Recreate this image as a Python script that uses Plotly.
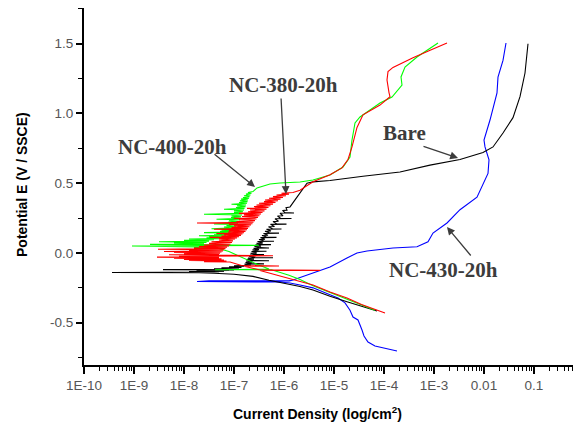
import numpy as np
import plotly.graph_objects as go

# ---------------- data (log10 of current density, potential V) ----------------
BARE_LOG_I = [-4.14, -4.44, -4.74, -5.08, -5.42, -5.68, -6.08, -6.3, -6.62, -7.0,
              -7.4, -7.7, -9.44, -7.7, -7.3, -7.9, -7.2, -7.75, -7.1, -7.6, -7.0, -8.42, -6.95, -7.4,
              -6.9, -7.25, -6.85, -7.1, -6.80, -7.0,
              -6.80, -6.66, -6.79, -6.65, -6.40, -6.65, -6.77, -6.63, -6.76, -6.62, -6.30, -6.62,
              -6.74, -6.60, -6.72, -6.59, -6.22, -6.59, -6.70, -6.57, -6.68, -6.56, -6.40, -6.56,
              -6.67, -6.54, -6.65, -6.52, -6.35, -6.52, -6.63, -6.50, -6.61, -6.48, -6.30, -6.48,
              -6.59, -6.46, -6.57, -6.44, -6.26, -6.44, -6.55, -6.42, -6.53, -6.40, -6.20, -6.40,
              -6.50, -6.38, -6.47, -6.35, -6.15, -6.35, -6.44, -6.32, -6.41, -6.29, -6.10, -6.29,
              -6.38, -6.26, -6.35, -6.23, -6.05, -6.23, -6.31, -6.19, -6.27, -6.15, -5.95, -6.15,
              -6.22, -6.11, -6.18, -6.07, -5.85, -6.07, -6.13, -6.02, -6.08, -5.98, -5.80, -5.98,
              -6.03, -5.94, -5.96, -5.88,
              -5.74, -5.64, -5.60, -5.54, -5.42, -5.08, -4.42, -3.68, -3.08, -2.48, -2.02, -1.82,
              -1.62, -1.42, -1.28, -1.18, -1.12]
BARE_E = [-0.416, -0.385, -0.35, -0.31, -0.265, -0.24, -0.213, -0.195, -0.168, -0.153,
          -0.145, -0.142, -0.140, -0.138, -0.136, -0.134, -0.132, -0.129, -0.126, -0.123, -0.121, -0.119, -0.117, -0.113,
          -0.110, -0.106, -0.103, -0.099, -0.095, -0.092,
          -0.090, -0.088, -0.080, -0.078, -0.078, -0.076, -0.068, -0.066, -0.058, -0.056, -0.056, -0.054,
          -0.046, -0.044, -0.036, -0.034, -0.034, -0.032, -0.024, -0.022, -0.014, -0.012, -0.012, -0.010,
          -0.002, 0.000, 0.010, 0.012, 0.012, 0.014, 0.022, 0.024, 0.034, 0.036, 0.036, 0.038,
          0.046, 0.048, 0.058, 0.060, 0.060, 0.062, 0.070, 0.072, 0.082, 0.084, 0.084, 0.086,
          0.096, 0.098, 0.110, 0.112, 0.112, 0.114, 0.125, 0.127, 0.140, 0.142, 0.142, 0.144,
          0.155, 0.157, 0.170, 0.172, 0.172, 0.174, 0.188, 0.190, 0.205, 0.207, 0.207, 0.209,
          0.225, 0.227, 0.245, 0.247, 0.247, 0.249, 0.265, 0.267, 0.285, 0.287, 0.287, 0.289,
          0.305, 0.307, 0.325, 0.33,
          0.40, 0.45, 0.475, 0.50, 0.51, 0.52, 0.55, 0.58, 0.63, 0.67, 0.72, 0.76,
          0.86, 0.97, 1.12, 1.29, 1.50]

NC380_LOG_I = [-3.98, -4.14, -4.45, -4.74, -5.08, -5.42, -5.75, -6.08, -6.48, -5.28, -6.5, -6.8,
               -6.1, -6.85,
               -7.08, -7.6, -7.15, -7.9, -7.2, -8.0, -7.25, -8.2, -7.3, -8.54, -7.3, -8.1, -6.22,
               -7.35, -8.3, -7.3, -8.0, -7.28, -8.2, -7.25, -8.4, -7.22, -7.9, -7.2, -8.52, -7.17,
               -7.8, -7.14, -7.7, -7.1, -7.6, -7.07, -7.5, -7.04, -7.45, -7.02, -7.3,
               -6.98, -7.30, -6.94, -7.48, -6.90, -7.25, -6.86, -7.20, -6.83, -7.35, -6.80, -7.12,
               -6.77, -7.10, -6.74, -7.40, -6.72, -7.05, -6.69, -7.00, -6.66, -7.10, -6.63, -7.74,
               -6.61, -6.95, -6.58, -6.90, -6.55, -7.00, -6.52, -6.84, -6.49, -6.80, -6.46, -6.90,
               -6.43, -6.72, -6.39, -6.68, -6.35, -6.74, -6.31, -6.60, -6.27, -6.55, -6.22, -6.50,
               -6.17, -6.40, -6.12, -6.38, -6.07, -6.30, -6.02, -6.22, -5.96, -6.15, -5.90, -6.05,
               -5.82, -5.75,
               -5.68, -5.42, -5.08, -4.84, -4.72, -4.64, -4.54, -4.42, -4.08, -3.88, -3.90, -3.94,
               -3.92, -3.82, -3.42, -3.1, -2.74]
NC380_E = [-0.43, -0.408, -0.37, -0.323, -0.28, -0.23, -0.195, -0.165, -0.125, -0.125, -0.12, -0.095,
           -0.093, -0.09,
           -0.065, -0.062, -0.058, -0.054, -0.050, -0.046, -0.042, -0.038, -0.034, -0.030, -0.027, -0.024, -0.020,
           -0.017, -0.013, -0.009, -0.005, -0.001, 0.003, 0.007, 0.011, 0.015, 0.019, 0.023, 0.027, 0.031,
           0.036, 0.041, 0.046, 0.051, 0.057, 0.063, 0.069, 0.075, 0.081, 0.087, 0.093,
           0.100, 0.104, 0.108, 0.112, 0.116, 0.121, 0.126, 0.131, 0.136, 0.140, 0.145, 0.150,
           0.155, 0.160, 0.166, 0.170, 0.176, 0.182, 0.188, 0.194, 0.200, 0.205, 0.210, 0.215,
           0.220, 0.226, 0.232, 0.238, 0.244, 0.249, 0.255, 0.261, 0.267, 0.273, 0.279, 0.284,
           0.290, 0.296, 0.302, 0.308, 0.314, 0.320, 0.326, 0.332, 0.338, 0.344, 0.350, 0.356,
           0.362, 0.368, 0.374, 0.380, 0.386, 0.392, 0.398, 0.404, 0.410, 0.416, 0.422, 0.428,
           0.434, 0.442,
           0.45, 0.51, 0.56, 0.61, 0.67, 0.76, 0.90, 0.99, 1.06, 1.12, 1.15, 1.24,
           1.30, 1.33, 1.40, 1.45, 1.505]

NC400_LOG_I = [-4.18, -4.45, -4.74, -5.08, -5.42, -5.68, -5.9, -6.25, -7.38, -6.3, -6.48, -6.88,
               -7.1, -7.34,
               -7.8, -7.4, -9.04, -7.5, -6.5, -7.6, -8.68, -7.6, -8.2, -7.55, -8.5, -7.5, -8.0,
               -7.4, -7.9, -7.3,
               -7.30, -7.55, -7.25, -7.50, -7.20, -7.70, -7.16, -7.40, -7.12, -7.35, -7.08, -7.60,
               -7.05, -7.28, -7.02, -7.25, -7.00, -7.45, -6.98, -7.20, -6.96, -7.15, -6.94, -7.40,
               -6.92, -7.12, -6.90, -7.10, -6.88, -7.35, -6.87, -7.06, -6.86, -7.05, -6.84, -7.60,
               -6.83, -7.00, -6.82, -7.00, -6.80, -7.20, -6.79, -6.96, -6.77, -6.94, -6.76, -7.05,
               -6.74, -6.90, -6.73, -6.88, -6.72, -6.86, -6.70, -6.82, -6.69, -6.80, -6.67, -6.76,
               -6.65, -6.72, -6.62,
               -6.54, -6.28, -6.08, -5.68, -5.42, -5.08, -4.82, -4.68, -4.64, -4.58, -4.48, -4.08,
               -3.84, -3.72, -3.64, -3.66, -3.58, -3.34, -2.92]
NC400_E = [-0.41, -0.372, -0.33, -0.285, -0.235, -0.19, -0.16, -0.12, -0.12, -0.115, -0.09, -0.025,
           0.01, 0.035,
           0.04, 0.042, 0.05, 0.052, 0.055, 0.058, 0.062, 0.066, 0.072, 0.076, 0.08, 0.085, 0.09,
           0.095, 0.10, 0.103,
           0.105, 0.108, 0.112, 0.116, 0.120, 0.123, 0.127, 0.131, 0.135, 0.139, 0.143, 0.146,
           0.150, 0.155, 0.160, 0.165, 0.170, 0.174, 0.180, 0.186, 0.192, 0.198, 0.204, 0.208,
           0.214, 0.220, 0.226, 0.232, 0.238, 0.242, 0.248, 0.254, 0.260, 0.266, 0.272, 0.278,
           0.284, 0.290, 0.296, 0.302, 0.308, 0.313, 0.320, 0.326, 0.332, 0.338, 0.344, 0.349,
           0.356, 0.362, 0.368, 0.374, 0.380, 0.386, 0.392, 0.398, 0.404, 0.410, 0.416, 0.422,
           0.428, 0.434, 0.440,
           0.466, 0.495, 0.502, 0.509, 0.523, 0.559, 0.616, 0.688, 0.81, 0.932, 0.975, 1.075,
           1.118, 1.168, 1.204, 1.262, 1.333, 1.405, 1.505]

NC430_LOG_I = [-3.74, -3.94, -4.18, -4.32, -4.40, -4.44, -4.52, -4.62, -4.68, -4.78, -4.92, -5.08,
               -5.42, -5.68, -5.88, -6.08, -7.74, -7.5, -5.9,
               -5.82, -5.42, -5.08, -4.74, -4.54, -4.34, -3.82, -3.34, -3.12, -3.02, -2.74, -2.48,
               -2.22, -2.14, -1.92, -1.90, -1.98, -2.0, -1.88, -1.74, -1.72, -1.62, -1.56]
NC430_E = [-0.703, -0.688, -0.667, -0.638, -0.595, -0.552, -0.48, -0.459, -0.41, -0.358, -0.323, -0.30,
           -0.25, -0.23, -0.215, -0.208, -0.205, -0.2, -0.2,
           -0.194, -0.143, -0.10, -0.036, 0.0, 0.014, 0.036, 0.045, 0.08, 0.143, 0.215, 0.31,
           0.38, 0.40, 0.57, 0.667, 0.76, 0.81, 0.953, 1.147, 1.26, 1.38, 1.505]

TICK_EXP = [-10, -9, -8, -7, -6, -5, -4, -3, -2, -1]
TICK_LABELS = ["1E-10", "1E-9", "1E-8", "1E-7", "1E-6", "1E-5", "1E-4", "1E-3", "0.01", "0.1"]
Y_TICKS = [-0.5, 0.0, 0.5, 1.0, 1.5]
Y_LABELS = ["-0.5", "0.0", "0.5", "1.0", "1.5"]
Y_MINOR = [-0.75, -0.25, 0.25, 0.75, 1.25, 1.75]

# ---------------- figure ----------------
fig = go.Figure()
series = [
    ("NC-430-20h", NC430_LOG_I, NC430_E, "#0000ff"),
    ("Bare", BARE_LOG_I, BARE_E, "#000000"),
    ("NC-400-20h", NC400_LOG_I, NC400_E, "#00ff00"),
    ("NC-380-20h", NC380_LOG_I, NC380_E, "#ff0000"),
]
for name, lg, e, col in series:
    fig.add_trace(go.Scatter(x=10 ** np.array(lg, dtype=float), y=e, mode="lines",
                             line=dict(color=col, width=1.1), name=name, showlegend=False))

lab_font = dict(family="Liberation Serif", size=21, color="#3c3c3c", weight="bold")
arrow_col = "#3c3c3c"
labels = [
    ("NC-400-20h", -8.24, 0.76, -7.42, 0.717, -6.58, 0.473),
    ("NC-380-20h", -6.02, 1.204, -6.06, 1.118, -5.96, 0.423),
    ("Bare", -3.6, 0.86, -3.24, 0.767, -2.52, 0.681),
    ("NC-430-20h", -2.82, -0.122, -2.24, -0.029, -2.74, 0.186),
]
for txt, tx, ty, ax, ay, hx, hy in labels:
    fig.add_annotation(x=tx, y=ty, xref="x", yref="y", text=txt, showarrow=False,
                       font=lab_font, xanchor="center", yanchor="middle")
    fig.add_annotation(x=hx, y=hy, xref="x", yref="y", ax=ax, ay=ay, axref="x", ayref="y",
                       text="", showarrow=True, arrowhead=2, arrowsize=1.2, arrowwidth=1.3,
                       arrowcolor=arrow_col)

title_font = dict(family="Liberation Sans", size=14, color="#000000", weight="bold")
fig.add_annotation(x=-0.1268, y=0.507, xref="paper", yref="paper", text="Potential E (V / SSCE)",
                   textangle=-90, showarrow=False, font=title_font, xanchor="center", yanchor="middle")
fig.add_annotation(x=0.4785, y=-0.1345, xref="paper", yref="paper",
                   text="Current Density (log/cm<sup>2</sup>)", showarrow=False, font=title_font,
                   xanchor="center", yanchor="middle")

minor_x = [m * 10.0 ** k for k in TICK_EXP for m in range(2, 10)]
tick_font = dict(family="Liberation Sans", size=13.5, color="#555555")
fig.update_xaxes(type="log", range=[-10, -0.22],
                 tickvals=[10.0 ** k for k in TICK_EXP], ticktext=TICK_LABELS,
                 showline=True, linecolor="black", linewidth=2, mirror=False,
                 ticks="outside", ticklen=7, tickwidth=1.5, tickcolor="black",
                 minor=dict(ticks="outside", ticklen=4, tickwidth=1, tickcolor="black",
                            tickvals=minor_x, showgrid=False),
                 showgrid=False, zeroline=False, tickfont=tick_font)
fig.update_yaxes(range=[-0.803, 1.756], tickvals=Y_TICKS, ticktext=Y_LABELS,
                 showline=True, linecolor="black", linewidth=2, mirror=False,
                 ticks="outside", ticklen=6, tickwidth=1.5, tickcolor="black",
                 minor=dict(ticks="outside", ticklen=4, tickwidth=1, tickcolor="black",
                            tickvals=Y_MINOR, showgrid=False),
                 showgrid=False, zeroline=False, tickfont=tick_font)

fig.update_layout(width=573, height=427, margin=dict(l=84, r=0, t=8, b=62),
                  plot_bgcolor="white", paper_bgcolor="white", showlegend=False)
fig.write_html("out.html")
